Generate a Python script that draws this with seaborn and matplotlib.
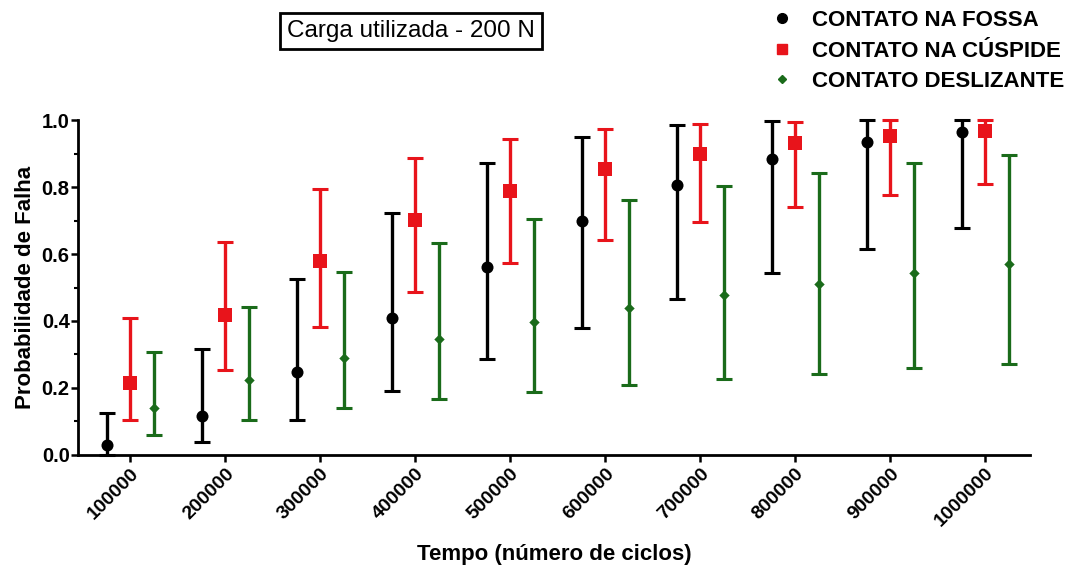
import numpy as np
import pandas as pd
import matplotlib
matplotlib.use("Agg")
import matplotlib.pyplot as plt
import matplotlib.transforms as mtransforms
import seaborn as sns
from matplotlib.lines import Line2D

# dados
ciclos = [100000, 200000, 300000, 400000, 500000, 600000, 700000, 800000, 900000, 1000000]
series = ["CONTATO NA FOSSA", "CONTATO NA CÚSPIDE", "CONTATO DESLIZANTE"]

fossa = [0.03, 0.117, 0.249, 0.409, 0.562, 0.698, 0.806, 0.883, 0.935, 0.965]
fossa_inf = [0.0, 0.04, 0.104, 0.192, 0.286, 0.378, 0.465, 0.544, 0.615, 0.677]
fossa_sup = [0.125, 0.316, 0.525, 0.723, 0.871, 0.95, 0.985, 0.997, 1.0, 1.0]

cuspide = [0.216, 0.418, 0.58, 0.701, 0.789, 0.854, 0.9, 0.93, 0.952, 0.968]
cuspide_inf = [0.104, 0.254, 0.383, 0.488, 0.572, 0.642, 0.695, 0.741, 0.776, 0.808]
cuspide_sup = [0.41, 0.637, 0.793, 0.888, 0.943, 0.972, 0.988, 0.995, 1.0, 1.0]

desliz = [0.14, 0.224, 0.29, 0.346, 0.396, 0.438, 0.478, 0.51, 0.542, 0.57]
desliz_inf = [0.06, 0.103, 0.14, 0.167, 0.187, 0.209, 0.226, 0.242, 0.259, 0.271]
desliz_sup = [0.307, 0.443, 0.547, 0.632, 0.703, 0.761, 0.803, 0.841, 0.873, 0.896]

# estilo
cores = {"CONTATO NA FOSSA": "black", "CONTATO NA CÚSPIDE": "#e8141b", "CONTATO DESLIZANTE": "#1a6b1a"}
marcadores = {"CONTATO NA FOSSA": "o", "CONTATO NA CÚSPIDE": "s", "CONTATO DESLIZANTE": "D"}
tamanhos = {"CONTATO NA FOSSA": 75, "CONTATO NA CÚSPIDE": 95, "CONTATO DESLIZANTE": 28}
deslocamento = {"CONTATO NA FOSSA": -25000, "CONTATO NA CÚSPIDE": 0, "CONTATO DESLIZANTE": 25000}

valores = {"CONTATO NA FOSSA": (fossa, fossa_inf, fossa_sup),
           "CONTATO NA CÚSPIDE": (cuspide, cuspide_inf, cuspide_sup),
           "CONTATO DESLIZANTE": (desliz, desliz_inf, desliz_sup)}

linhas = []
for s in series:
    p, lo, hi = valores[s]
    for c, v, a, b in zip(ciclos, p, lo, hi):
        linhas.append({"ciclos": c, "x": c + deslocamento[s], "prob": v, "inf": a, "sup": b, "serie": s})
df = pd.DataFrame(linhas)

sns.set_style("ticks")
plt.rcParams['font.family'] = ['Liberation Sans', 'DejaVu Sans']
plt.rcParams.update({"text.color": "black", "axes.labelcolor": "black",
                     "xtick.color": "black", "ytick.color": "black"})

fig = plt.figure(figsize=(10.72, 5.75), dpi=100)
ax = fig.add_axes([0.0728, 0.2087, 0.888, 0.5826])

for s in series:
    d = df[df["serie"] == s]
    ax.errorbar(d["x"], d["prob"], yerr=[d["prob"] - d["inf"], d["sup"] - d["prob"]],
                fmt="none", ecolor=cores[s], elinewidth=2.4, capsize=6, capthick=2.2,
                clip_on=False, zorder=2)
    sns.scatterplot(data=d, x="x", y="prob", color=cores[s], marker=marcadores[s],
                    s=tamanhos[s], edgecolor=cores[s], linewidth=0, ax=ax,
                    legend=False, zorder=3, clip_on=False)

ax.set_xlim(45000, 1047000)
ax.set_ylim(0, 1.0)
ax.set_xticks(ciclos)
ax.set_xticklabels([str(c) for c in ciclos], rotation=45, ha="right", va="top",
                   rotation_mode="anchor", fontsize=14, fontweight="bold")
desloc = mtransforms.ScaledTranslation(-5 / 100, -2 / 100, fig.dpi_scale_trans)
for lbl in ax.get_xticklabels():
    lbl.set_transform(lbl.get_transform() + desloc)
ax.set_yticks([0.0, 0.2, 0.4, 0.6, 0.8, 1.0])
ax.set_yticks([0.1, 0.3, 0.5, 0.7, 0.9], minor=True)
ax.set_yticklabels(["0.0", "0.2", "0.4", "0.6", "0.8", "1.0"], fontsize=14.5, fontweight="bold")
ax.tick_params(axis="both", which="major", width=1.8, length=5, color="black", pad=2)
ax.tick_params(axis="y", which="minor", width=1.5, length=3, color="black")
ax.tick_params(axis="y", which="major", pad=1)
sns.despine(ax=ax)
for lado in ["left", "bottom"]:
    ax.spines[lado].set_linewidth(2)
    ax.spines[lado].set_color("black")

ax.set_xlabel("Tempo (número de ciclos)", fontsize=16, fontweight="bold", labelpad=10)
ax.set_ylabel("Probabilidade de Falha", fontsize=16, fontweight="bold", labelpad=4)

# caixa de titulo
fig.text(0.3835, 0.946, "Carga utilizada - 200 N", ha="center", va="center", fontsize=17.5,
         bbox=dict(boxstyle="square,pad=0.3", facecolor="white", edgecolor="black", linewidth=2))

# legenda
alcas = [Line2D([], [], linestyle="none", marker=marcadores[s], color=cores[s],
                markersize={"o": 7, "s": 7.5, "D": 4.5}[marcadores[s]]) for s in series]
fig.legend(alcas, series, loc="upper left", bbox_to_anchor=(0.700, 1.017), frameon=False,
           prop={"weight": "bold", "size": 16}, handletextpad=0.87, labelspacing=0.42,
           handlelength=1.0)

fig.savefig("out.png", dpi=100)
